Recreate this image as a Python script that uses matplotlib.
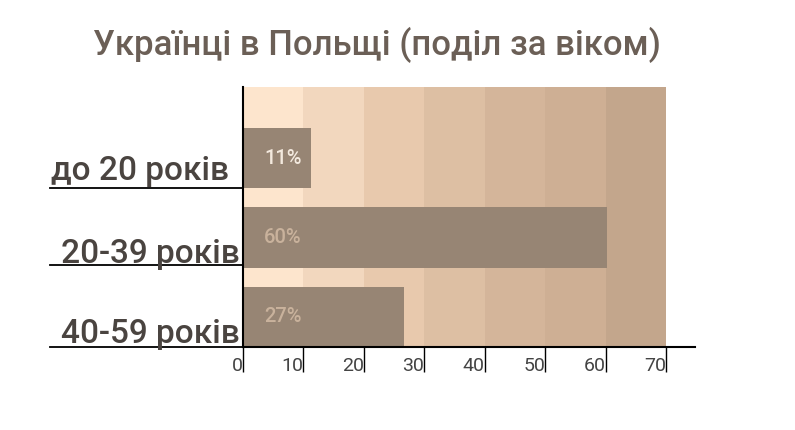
import matplotlib
matplotlib.use("Agg")
from matplotlib import pyplot as plt
from matplotlib.lines import Line2D

plt.rcParams['font.family'] = ['Roboto', 'DejaVu Sans']

# data
categories = ["до 20 років", "20-39 років", "40-59 років"]
values = [11.2, 60.2, 26.6]
value_labels = ["11%", "60%", "27%"]
label_colors = ["#f3e9de", "#c9b29c", "#c9b29c"]
xticks = [0, 10, 20, 30, 40, 50, 60, 70]
band_colors = ["#fde5cd", "#f2d7be", "#e8c9ad", "#ddbfa3", "#d4b59a", "#ceaf94", "#c3a68c"]

W, H = 795, 430
fig = plt.figure(figsize=(W / 100, H / 100), dpi=100)
x0, x1, ytop, ybot = 243, 695, 87, 347
ax = fig.add_axes([x0 / W, 1 - ybot / H, (x1 - x0) / W, (ybot - ytop) / H])

xmax = 70 * (x1 - x0) / (666 - x0)
ax.set_xlim(0, xmax)
ax.set_ylim(-0.38, 2.9)

for i, c in enumerate(band_colors):
    ax.axvspan(i * 10, (i + 1) * 10, color=c, lw=0, zorder=0)

ypos = [2, 1, 0]
ax.barh(ypos, values, height=0.76, color="#978574", zorder=2)
for y, lab, col in zip(ypos, value_labels, label_colors):
    ax.text(3.5, y, lab, color=col, fontsize=14.5, fontweight='medium',
            va='center', ha='left', zorder=3)

for s in ['top', 'right']:
    ax.spines[s].set_visible(False)
ax.spines['left'].set_linewidth(1.5)
ax.spines['bottom'].set_linewidth(1.5)
ax.set_yticks([])
ax.set_xticks(xticks)
ax.set_xticklabels([str(t) for t in xticks], ha='right')
ax.tick_params(axis='x', length=18, width=1, direction='out', pad=-11,
               labelsize=14, labelcolor="#444444")

# category labels with underline
line_y = [188, 265, 347]
base_y = [180, 263, 343]
label_x = [229, 240, 240]
for lab, ly, by, lx in zip(categories, line_y, base_y, label_x):
    fig.text(lx / W, 1 - by / H, lab, ha='right', va='baseline',
             fontsize=24, fontweight='medium', color="#4a4440")
    fig.add_artist(Line2D([50 / W, x0 / W], [1 - ly / H, 1 - ly / H],
                          color='black', lw=1.3))

fig.text(377 / W, 1 - 45 / H, "Українці в Польщі (поділ за віком)",
         ha='center', va='center', fontsize=25, fontweight='medium', color="#6b5f56")

fig.savefig("out.png", dpi=100)
